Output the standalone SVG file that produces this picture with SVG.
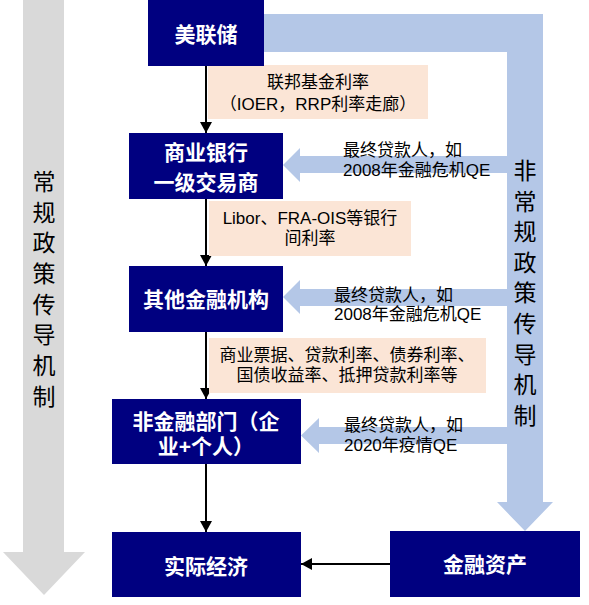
<svg xmlns="http://www.w3.org/2000/svg" width="589" height="605" viewBox="0 0 589 605">
  <defs>
    <style>
      .node { fill: #000080; }
      .peach { fill: #FBE5D6; }
      .blue { fill: #B4C7E7; }
      .gray { fill: #D9D9D9; }
      .nt { font-family: "Liberation Sans", "Noto Sans CJK SC", sans-serif; font-size: 21px; font-weight: bold; fill: #FFFFFF; text-anchor: middle; }
      .lt { font-family: "Liberation Sans", "Noto Sans CJK SC", sans-serif; font-size: 17px; fill: #000000; }
      .mid { text-anchor: middle; }
      .vt { font-family: "Liberation Sans", "Noto Sans CJK SC", sans-serif; font-size: 23px; fill: #000000; text-anchor: middle; }
      .conn { stroke: #000000; stroke-width: 2; fill: none; marker-end: url(#ah); }
    </style>
    <marker id="ah" markerUnits="userSpaceOnUse" markerWidth="12" markerHeight="12" refX="11" refY="6" orient="auto">
      <path d="M0,0 L11,6 L0,12 Z" fill="#000000"/>
    </marker>
  </defs>
  <rect width="589" height="605" fill="#FFFFFF"/>

  <g id="regular-channel">
    <polygon class="gray" points="23,0 64,0 64,552 85,552 44,595 3,552 23,552"/>
    <text class="vt" x="44" y="190">常</text>
    <text class="vt" x="44" y="221">规</text>
    <text class="vt" x="44" y="251">政</text>
    <text class="vt" x="44" y="282">策</text>
    <text class="vt" x="44" y="313">传</text>
    <text class="vt" x="44" y="343">导</text>
    <text class="vt" x="44" y="374">机</text>
    <text class="vt" x="44" y="405">制</text>
  </g>

  <g id="unconventional-channel">
    <polygon class="blue" points="264,14 543,14 543,502 553,502 525,531 497,502 507,502 507,52 264,52"/>
    <text class="vt" x="525" y="179">非</text>
    <text class="vt" x="525" y="210">常</text>
    <text class="vt" x="525" y="240">规</text>
    <text class="vt" x="525" y="271">政</text>
    <text class="vt" x="525" y="301">策</text>
    <text class="vt" x="525" y="332">传</text>
    <text class="vt" x="525" y="363">导</text>
    <text class="vt" x="525" y="393">机</text>
    <text class="vt" x="525" y="424">制</text>
  </g>

  <g id="connectors">
    <polygon class="blue" points="283,165 300,148 300,156 510,156 510,173 300,173 300,182"/>
    <polygon class="blue" points="283,297 300,280 300,289 510,289 510,306 300,306 300,314"/>
    <polygon class="blue" points="301,435.5 319,418 319,427 510,427 510,444 319,444 319,453"/>
    <line class="conn" x1="206" y1="66" x2="206" y2="133"/>
    <line class="conn" x1="206" y1="199" x2="206" y2="266"/>
    <line class="conn" x1="206" y1="332" x2="206" y2="399"/>
    <line class="conn" x1="206" y1="464" x2="206" y2="532"/>
    <line class="conn" x1="390" y1="564" x2="301" y2="564"/>
  </g>

  <g id="label-fed-funds">
    <rect class="peach" x="208" y="65" width="220" height="54"/>
    <text class="lt mid" x="318" y="88">联邦基金利率</text>
    <text class="lt mid" x="318" y="110">（IOER，RRP利率走廊）</text>
  </g>
  <g id="label-interbank">
    <rect class="peach" x="209" y="201" width="202" height="55"/>
    <text class="lt mid" x="310" y="224">Libor、FRA-OIS等银行</text>
    <text class="lt mid" x="310" y="244">间利率</text>
  </g>
  <g id="label-market-rates">
    <rect class="peach" x="209" y="338" width="277" height="55"/>
    <text class="lt mid" x="347" y="361">商业票据、贷款利率、债券利率、</text>
    <text class="lt mid" x="347" y="381">国债收益率、抵押贷款利率等</text>
  </g>

  <g id="label-lender-1">
    <text class="lt" x="343" y="156">最终贷款人，如</text>
    <text class="lt" x="343" y="176">2008年金融危机QE</text>
  </g>
  <g id="label-lender-2">
    <text class="lt" x="334" y="301">最终贷款人，如</text>
    <text class="lt" x="334" y="320">2008年金融危机QE</text>
  </g>
  <g id="label-lender-3">
    <text class="lt" x="344" y="431">最终贷款人，如</text>
    <text class="lt" x="344" y="451">2020年疫情QE</text>
  </g>

  <g id="node-fed">
    <rect class="node" x="148" y="0" width="116" height="66"/>
    <text class="nt" x="206" y="42">美联储</text>
  </g>
  <g id="node-commercial-banks">
    <rect class="node" x="129" y="133" width="154" height="66"/>
    <text class="nt" x="206" y="160">商业银行</text>
    <text class="nt" x="206" y="190">一级交易商</text>
  </g>
  <g id="node-other-financial">
    <rect class="node" x="129" y="266" width="154" height="66"/>
    <text class="nt" x="206" y="307">其他金融机构</text>
  </g>
  <g id="node-nonfinancial">
    <rect class="node" x="112" y="399" width="189" height="65"/>
    <text class="nt" x="206" y="429">非金融部门（企</text>
    <text class="nt" x="206" y="454">业+个人）</text>
  </g>
  <g id="node-real-economy">
    <rect class="node" x="112" y="532" width="189" height="65"/>
    <text class="nt" x="206" y="574">实际经济</text>
  </g>
  <g id="node-financial-assets">
    <rect class="node" x="390" y="531" width="190" height="66"/>
    <text class="nt" x="485" y="572">金融资产</text>
  </g>
</svg>
